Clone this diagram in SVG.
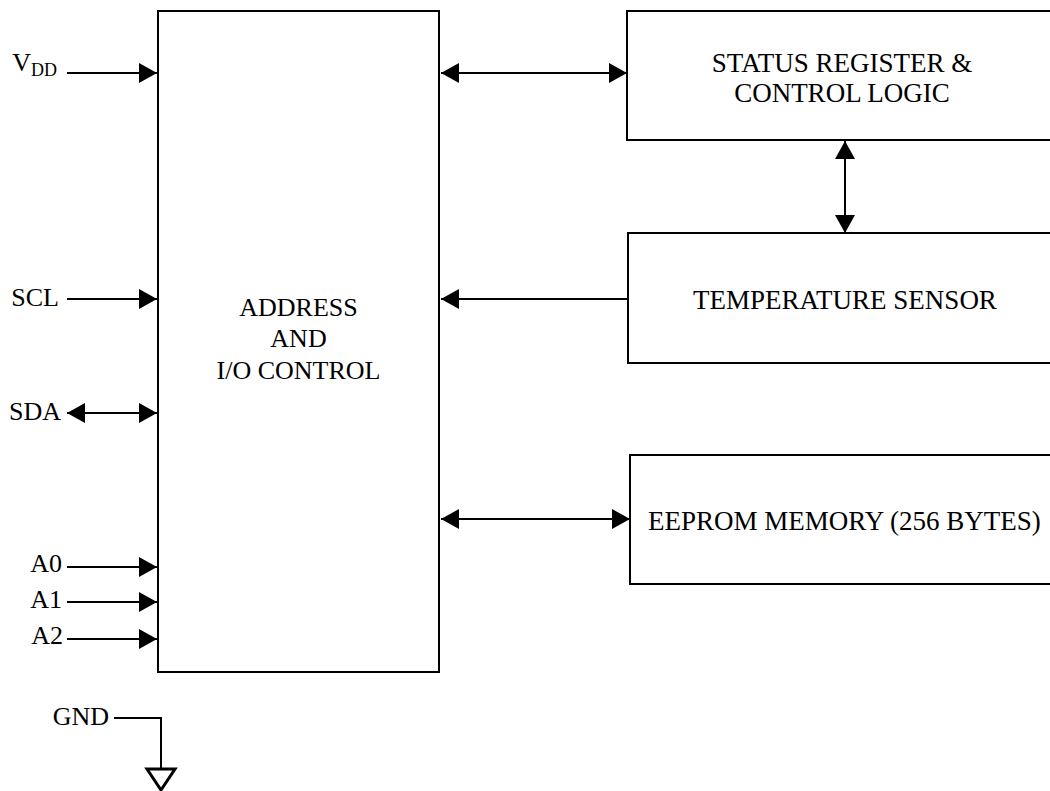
<svg xmlns="http://www.w3.org/2000/svg" width="1050" height="791" viewBox="0 0 1050 791">
<style>
.box{fill:#fff;stroke:#000;stroke-width:2}
.t{font-family:"Liberation Serif","Times New Roman",serif;font-size:26px;fill:#000}
.b{font-size:27px}
.c{text-anchor:middle}
.r{text-anchor:end}
.w{fill:none;stroke:#000;stroke-width:2}
</style>
<defs>
<marker id="ah" viewBox="0 0 18 20" refX="18" refY="10" markerWidth="18" markerHeight="20" markerUnits="userSpaceOnUse" orient="auto-start-reverse">
<path d="M0,0 L18,10 L0,20 Z" fill="#000"/>
</marker>
</defs>
<rect width="1050" height="791" fill="#fff"/>
<g id="main">
<rect class="box" x="158" y="11" width="281" height="661"/>
<text class="t c" x="298.5" y="316">ADDRESS</text>
<text class="t c" x="298.5" y="347">AND</text>
<text class="t c" x="298.5" y="379">I/O CONTROL</text>
</g>
<g id="status">
<rect class="box" x="627" y="11" width="440" height="129"/>
<text class="t b c" x="842" y="72">STATUS REGISTER &amp;</text>
<text class="t b c" x="842" y="102">CONTROL LOGIC</text>
</g>
<g id="temp">
<rect class="box" x="628" y="233" width="440" height="130"/>
<text class="t b c" x="845" y="309">TEMPERATURE SENSOR</text>
</g>
<g id="eeprom">
<rect class="box" x="630" y="455" width="440" height="129"/>
<text class="t b" x="648" y="530">EEPROM MEMORY (256 BYTES)</text>
</g>
<g id="labels">
<text class="t r" x="57" y="71">V<tspan font-size="18" dy="5">DD</tspan></text>
<text class="t r" x="59" y="306">SCL</text>
<text class="t r" x="61" y="420">SDA</text>
<text class="t r" x="62" y="572">A0</text>
<text class="t r" x="62" y="608">A1</text>
<text class="t r" x="63" y="644">A2</text>
<text class="t r" x="109" y="725">GND</text>
</g>
<g id="gnd-symbol">
<path d="M147,769 L175,769 L161,790 Z" fill="#fff" stroke="#000" stroke-width="3" stroke-linejoin="miter"/>
</g>
<g id="connectors">
<line class="w" x1="67" y1="73" x2="157" y2="73" marker-end="url(#ah)"/>
<line class="w" x1="67" y1="299" x2="157" y2="299" marker-end="url(#ah)"/>
<line class="w" x1="67" y1="413" x2="157" y2="413" marker-start="url(#ah)" marker-end="url(#ah)"/>
<line class="w" x1="67" y1="567" x2="157" y2="567" marker-end="url(#ah)"/>
<line class="w" x1="67" y1="602" x2="157" y2="602" marker-end="url(#ah)"/>
<line class="w" x1="67" y1="639" x2="157" y2="639" marker-end="url(#ah)"/>
<polyline class="w" points="114,718 161,718 161,769"/>
<line class="w" x1="441" y1="73" x2="627" y2="73" marker-start="url(#ah)" marker-end="url(#ah)"/>
<line class="w" x1="845" y1="141" x2="845" y2="233" marker-start="url(#ah)" marker-end="url(#ah)"/>
<line class="w" x1="628" y1="299" x2="441" y2="299" marker-end="url(#ah)"/>
<line class="w" x1="441" y1="519" x2="630" y2="519" marker-start="url(#ah)" marker-end="url(#ah)"/>
</g>
</svg>
